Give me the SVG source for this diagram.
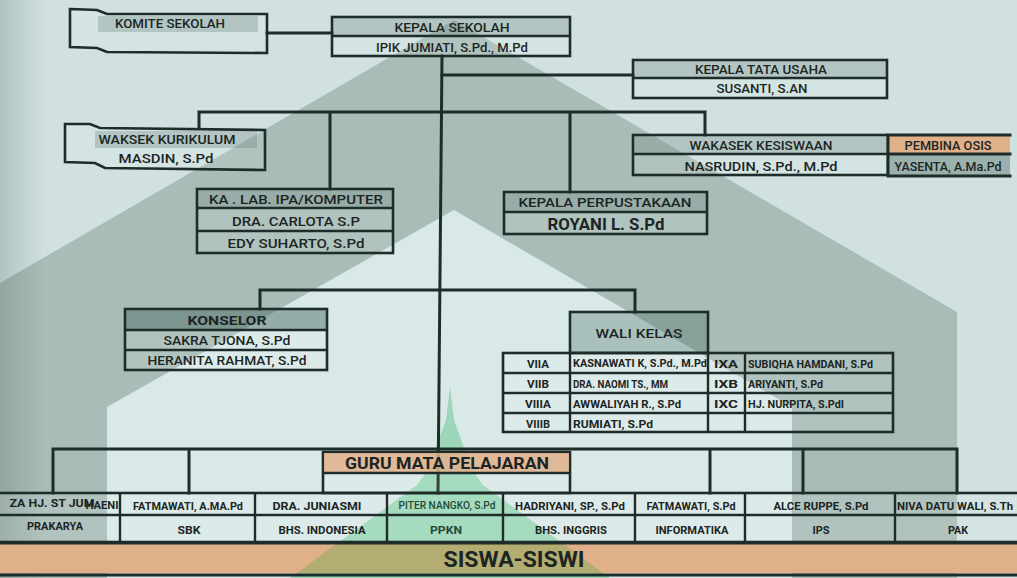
<svg xmlns="http://www.w3.org/2000/svg" width="1017" height="578" viewBox="0 0 1017 578">
<defs>
<style>
.ln{stroke:#1f2d2a;stroke-width:3;fill:none;stroke-linecap:square}
.bx{stroke:#1f2d2a;stroke-width:2.6;fill:rgba(255,255,255,0.10)}
.dv{stroke:#1f2d2a;stroke-width:2.4}
.hd{fill:rgba(80,110,104,0.26)}
.hd2{fill:rgba(50,85,78,0.42)}
.or{fill:#e0b089}
.t{font-family:Roboto,"DejaVu Sans",sans-serif;font-weight:500;fill:#1c2523;text-anchor:middle}
.b{font-weight:700}
.l{text-anchor:start}
</style>
<linearGradient id="vig" x1="0" y1="0" x2="1" y2="0">
<stop offset="0" stop-color="#3f5a54" stop-opacity="0.22"/>
<stop offset="1" stop-color="#3f5a54" stop-opacity="0"/>
</linearGradient>
</defs>

<g id="background">
<rect width="1017" height="578" fill="#d0e1e0"/>
<polygon points="454,20 957,312 957,578 0,578 0,283" fill="#a9bdb8"/>
<polygon points="454,210 792,407 792,578 107,578 107,407" fill="#d9e9e8"/>
<rect x="0" y="0" width="45" height="578" fill="url(#vig)"/>
</g>

<g id="green-spire">
<path d="M450,387 L454,420 L463,445 L472,470 L483,485 L610,578 L290,578 L417,485 L428,470 L437,445 L446,420 Z" fill="#4fc07e" opacity="0.45"/>
</g>

<g id="connectors">
<path class="ln" d="M267,33 H332"/>
<path class="ln" d="M442,56 L438,493"/>
<path class="ln" d="M442,75 H633"/>
<path class="ln" d="M199,112 H705 M199,112 V128 M330,112 V189 M570,112 V192 M705,112 V135"/>
<path class="ln" d="M260,290 H635 M260,290 V309 M635,290 V312"/>
<path class="ln" d="M53,449 H957 M53,449 V493 M189,449 V493 M710,449 V493 M803,449 V493 M957,449 V493"/>
</g>

<g id="komite-sekolah">
<path class="bx" d="M70,9 L97,10 L107,14 L267,14 L267,53 L107,52 L97,48 L70,47 Z"/>
<rect class="hd" x="98" y="16" width="160" height="16"/>
<text class="t" x="170" y="28" font-size="12" textLength="110" lengthAdjust="spacingAndGlyphs">KOMITE SEKOLAH</text>
</g>

<g id="kepala-sekolah">
<rect class="bx" x="332" y="17" width="238" height="39"/>
<rect class="hd" x="333" y="18" width="236" height="18"/>
<line class="dv" x1="332" y1="36" x2="570" y2="36"/>
<text class="t" x="452" y="32" font-size="13" textLength="115" lengthAdjust="spacingAndGlyphs">KEPALA SEKOLAH</text>
<text class="t" x="452" y="52" font-size="13" textLength="152" lengthAdjust="spacingAndGlyphs">IPIK JUMIATI, S.Pd., M.Pd</text>
</g>

<g id="kepala-tata-usaha">
<rect class="bx" x="633" y="60" width="254" height="38"/>
<rect class="hd" x="634" y="61" width="252" height="17"/>
<line class="dv" x1="633" y1="78" x2="887" y2="78"/>
<text class="t" x="761" y="74" font-size="12" textLength="132" lengthAdjust="spacingAndGlyphs">KEPALA TATA USAHA</text>
<text class="t" x="762" y="93" font-size="12" textLength="91" lengthAdjust="spacingAndGlyphs">SUSANTI, S.AN</text>
</g>

<g id="waksek-kurikulum">
<path class="bx" d="M65,124 L90,124 L100,128 L265,130 L265,170 L105,168 L95,163 L65,162 Z"/>
<rect class="hd" x="95" y="131" width="162" height="17"/>
<text class="t" x="167" y="144" font-size="12.5" textLength="137" lengthAdjust="spacingAndGlyphs">WAKSEK KURIKULUM</text>
<text class="t" x="166" y="163" font-size="13" textLength="95" lengthAdjust="spacingAndGlyphs">MASDIN, S.Pd</text>
</g>

<g id="ka-lab">
<rect class="bx" x="197" y="189" width="196" height="64"/>
<rect class="hd" x="198" y="190" width="194" height="18"/>
<line class="dv" x1="197" y1="208" x2="393" y2="208"/>
<line class="dv" x1="197" y1="231" x2="393" y2="231"/>
<text class="t" x="296" y="204" font-size="13" textLength="174" lengthAdjust="spacingAndGlyphs">KA . LAB. IPA/KOMPUTER</text>
<text class="t" x="296" y="226" font-size="13" textLength="128" lengthAdjust="spacingAndGlyphs">DRA. CARLOTA S.P</text>
<text class="t" x="296" y="248" font-size="13" textLength="137" lengthAdjust="spacingAndGlyphs">EDY SUHARTO, S.Pd</text>
</g>

<g id="kepala-perpustakaan">
<rect class="bx" x="504" y="192" width="203" height="42"/>
<rect class="hd" x="505" y="193" width="201" height="19"/>
<line class="dv" x1="504" y1="212" x2="707" y2="212"/>
<text class="t" x="605" y="207" font-size="13" font-weight="400" textLength="173" lengthAdjust="spacingAndGlyphs">KEPALA PERPUSTAKAAN</text>
<text class="t b" x="606" y="230" font-size="16" textLength="117" lengthAdjust="spacingAndGlyphs">ROYANI L. S.Pd</text>
</g>

<g id="wakasek-kesiswaan">
<rect class="bx" x="633" y="135" width="255" height="40"/>
<rect class="hd" x="634" y="136" width="253" height="18"/>
<line class="dv" x1="633" y1="154" x2="888" y2="154"/>
<text class="t" x="761" y="150" font-size="12.5" textLength="143" lengthAdjust="spacingAndGlyphs">WAKASEK KESISWAAN</text>
<text class="t" x="761" y="171" font-size="13" textLength="153" lengthAdjust="spacingAndGlyphs">NASRUDIN, S.Pd., M.Pd</text>
</g>

<g id="pembina-osis">
<rect class="or" x="888" y="136" width="122" height="18"/>
<rect x="888" y="155" width="122" height="20" fill="#9ab1ae"/>
<path class="ln" d="M888,135 H1010 M888,154 H1010 M888,176 H1010 M888,135 V176" stroke-width="2.6"/>
<text class="t" x="948" y="150" font-size="12" textLength="87" lengthAdjust="spacingAndGlyphs">PEMBINA OSIS</text>
<text class="t" x="948" y="171" font-size="12" textLength="107" lengthAdjust="spacingAndGlyphs">YASENTA, A.Ma.Pd</text>
</g>

<g id="konselor">
<rect class="bx" x="125" y="309" width="202" height="61"/>
<rect class="hd2" x="126" y="310" width="200" height="20"/>
<line class="dv" x1="125" y1="330" x2="327" y2="330"/>
<line class="dv" x1="125" y1="350" x2="327" y2="350"/>
<text class="t b" x="227" y="325" font-size="13" textLength="79" lengthAdjust="spacingAndGlyphs">KONSELOR</text>
<text class="t" x="227" y="345" font-size="13" textLength="127" lengthAdjust="spacingAndGlyphs">SAKRA TJONA, S.Pd</text>
<text class="t" x="227" y="365" font-size="13" textLength="159" lengthAdjust="spacingAndGlyphs">HERANITA RAHMAT, S.Pd</text>
</g>

<g id="wali-kelas">
<rect x="570" y="312" width="138" height="41" fill="rgba(60,100,88,0.30)" stroke="#1f2d2a" stroke-width="2.6"/>
<text class="t" x="639" y="338" font-size="13.5" font-weight="400" textLength="87" lengthAdjust="spacingAndGlyphs">WALI KELAS</text>
<rect class="bx" x="503" y="353" width="390" height="79"/>
<path class="dv" d="M503,373 H893 M503,393 H893 M503,413 H893 M570,353 V432 M708,353 V432 M745,353 V432"/>
<g class="t b" font-size="11.5">
<text x="538" y="368" textLength="22" lengthAdjust="spacingAndGlyphs">VIIA</text>
<text x="538" y="388" textLength="22" lengthAdjust="spacingAndGlyphs">VIIB</text>
<text x="538" y="408" textLength="26" lengthAdjust="spacingAndGlyphs">VIIIA</text>
<text x="538" y="428" textLength="24" lengthAdjust="spacingAndGlyphs">VIIIB</text>
<text x="726" y="368" textLength="24" lengthAdjust="spacingAndGlyphs">IXA</text>
<text x="726" y="388" textLength="24" lengthAdjust="spacingAndGlyphs">IXB</text>
<text x="726" y="408" textLength="24" lengthAdjust="spacingAndGlyphs">IXC</text>
</g>
<g class="t b l" font-size="10">
<text x="573" y="367" textLength="134" lengthAdjust="spacingAndGlyphs">KASNAWATI K, S.Pd., M.Pd</text>
<text x="573" y="388" textLength="95" lengthAdjust="spacingAndGlyphs">DRA. NAOMI TS., MM</text>
<text x="573" y="408" textLength="108" lengthAdjust="spacingAndGlyphs">AWWALIYAH R., S.Pd</text>
<text x="573" y="428" textLength="80" lengthAdjust="spacingAndGlyphs">RUMIATI, S.Pd</text>
<text x="748" y="368" textLength="125" lengthAdjust="spacingAndGlyphs">SUBIQHA HAMDANI, S.Pd</text>
<text x="748" y="388" textLength="75" lengthAdjust="spacingAndGlyphs">ARIYANTI, S.Pd</text>
<text x="748" y="408" textLength="96" lengthAdjust="spacingAndGlyphs">HJ. NURPITA, S.PdI</text>
</g>
</g>

<g id="guru-mata-pelajaran">
<rect class="bx" x="323" y="452" width="247" height="41" fill="none"/>
<rect class="or" x="324" y="453" width="245" height="20" fill-opacity="0.85"/>
<line class="dv" x1="323" y1="473" x2="570" y2="473"/>
<text class="t b" x="447" y="469" font-size="16" textLength="204" lengthAdjust="spacingAndGlyphs">GURU MATA PELAJARAN</text>
</g>

<g id="guru-table">
<rect class="bx" x="-2" y="493" width="1021" height="49"/>
<path class="dv" d="M0,515 H1017 M120,493 V542 M255,493 V542 M387,493 V542 M503,493 V542 M635,493 V542 M745,493 V542 M895,493 V542"/>
<g class="t b" font-size="11">
<text x="52" y="507" textLength="85" lengthAdjust="spacingAndGlyphs">ZA HJ. ST JUM</text>
<text x="102" y="509" textLength="33" lengthAdjust="spacingAndGlyphs">HAENI</text>
<text x="55" y="530" textLength="56" lengthAdjust="spacingAndGlyphs">PRAKARYA</text>
<text x="188" y="510" textLength="110" lengthAdjust="spacingAndGlyphs">FATMAWATI, A.MA.Pd</text>
<text x="317" y="510" textLength="89" lengthAdjust="spacingAndGlyphs">DRA. JUNIASMI</text>
<text x="447" y="509" font-size="10" font-weight="500" fill="#234a36" textLength="97" lengthAdjust="spacingAndGlyphs">PITER NANGKO, S.Pd</text>
<text x="570" y="510" textLength="110" lengthAdjust="spacingAndGlyphs">HADRIYANI, SP., S.Pd</text>
<text x="691" y="510" textLength="89" lengthAdjust="spacingAndGlyphs">FATMAWATI, S.Pd</text>
<text x="821" y="510" textLength="95" lengthAdjust="spacingAndGlyphs">ALCE RUPPE, S.Pd</text>
<text x="955" y="510" textLength="116" lengthAdjust="spacingAndGlyphs">NIVA DATU WALI, S.Th</text>
<text x="189" y="534" textLength="23" lengthAdjust="spacingAndGlyphs">SBK</text>
<text x="322" y="534" textLength="87" lengthAdjust="spacingAndGlyphs">BHS. INDONESIA</text>
<text x="446" y="534" fill="#234a36" textLength="32" lengthAdjust="spacingAndGlyphs">PPKN</text>
<text x="571" y="534" textLength="72" lengthAdjust="spacingAndGlyphs">BHS. INGGRIS</text>
<text x="692" y="534" textLength="73" lengthAdjust="spacingAndGlyphs">INFORMATIKA</text>
<text x="821" y="534" textLength="17" lengthAdjust="spacingAndGlyphs">IPS</text>
<text x="958" y="534" textLength="20" lengthAdjust="spacingAndGlyphs">PAK</text>
</g>
</g>

<g id="siswa-siswi">
<rect class="or" x="0" y="544" width="1017" height="29"/>
<polygon points="336,544 564,544 603,573 297,573" fill="#7faa55" opacity="0.45"/>
<path class="ln" d="M0,543 H1017 M0,575 H1017"/>
<text class="t b" x="514" y="567" font-size="22" fill="#2a2a1e" textLength="141" lengthAdjust="spacingAndGlyphs">SISWA-SISWI</text>
</g>
</svg>
